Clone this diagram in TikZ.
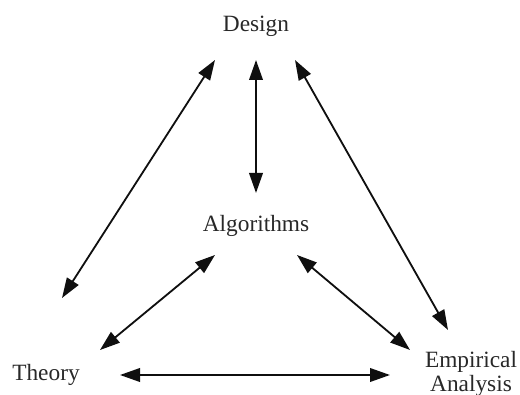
\documentclass[tikz,border=0pt]{standalone}
\usepackage{fontspec}
\setmainfont{Liberation Serif}
\usetikzlibrary{arrows.meta, positioning}
\usepackage{xcolor}
\definecolor{tText}{RGB}{40, 40, 40}
\definecolor{tLine}{RGB}{15, 15, 15}

\begin{document}
\begin{tikzpicture}[
    font=\fontsize{16.6}{17}\selectfont,
    >={Triangle[length=5mm, width=3.4mm]},
    term/.style={
        text=tText,
        inner sep=0pt,
        anchor=base,
        align=center
    },
    arrow/.style={<->, line width=1.3pt, color=tLine}
]
\useasboundingbox (0,0) rectangle (13,9.85);

\node[term] (design) at (6.4, 9.05) {Design};
\node[term] (algo) at (6.4, 4.05) {Algorithms};
\node[term] (theory) at (1.15, 0.325) {Theory};
\node[term] (empirical) at (11.775, 0.075) {Empirical\\Analysis};

% from Design
\draw[arrow] ([shift={(-1.025,-0.7)}]design.base) -- ([shift={(0.4,2.075)}]theory.base);
\draw[arrow] ([shift={(0,-0.7)}]design.base) -- ([shift={(0,0.975)}]algo.base);
\draw[arrow] ([shift={(0.975,-0.7)}]design.base) -- ([shift={(-0.575,1.525)}]empirical.base);

% from Algorithms
\draw[arrow] ([shift={(-1.025,-0.575)}]algo.base) -- ([shift={(1.35,0.775)}]theory.base);
\draw[arrow] ([shift={(1.025,-0.575)}]algo.base) -- ([shift={(-1.525,1.025)}]empirical.base);

% Theory -- Empirical Analysis
\draw[arrow] ([shift={(1.85,0.15)}]theory.base) -- ([shift={(-2.025,0.4)}]empirical.base);

\end{tikzpicture}
\end{document}
